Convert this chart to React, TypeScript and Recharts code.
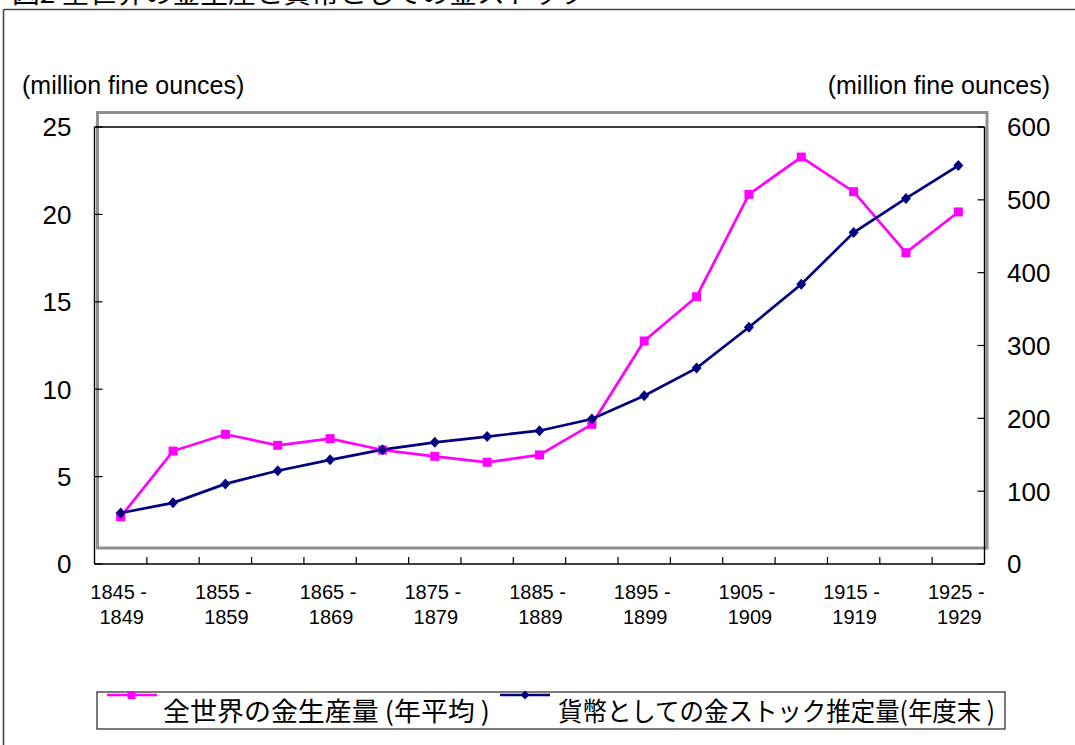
import React from "react";
import { LineChart, Line, XAxis, YAxis, ReferenceLine } from "recharts";

const periods = [
  "1845-1849", "1850-1854", "1855-1859", "1860-1864", "1865-1869", "1870-1874",
  "1875-1879", "1880-1884", "1885-1889", "1890-1894", "1895-1899", "1900-1904",
  "1905-1909", "1910-1914", "1915-1919", "1920-1924", "1925-1929",
];
const goldProduction = [2.7, 6.46, 7.42, 6.79, 7.17, 6.52, 6.16, 5.82, 6.24, 7.99, 12.76, 15.29, 21.15, 23.28, 21.3, 17.81, 20.14];
const monetaryStock = [70, 84, 110, 128, 143, 157, 167, 175, 183, 199, 231, 269, 325, 384, 455, 502, 547];
const leftTicks = [0, 5, 10, 15, 20, 25];
const rightTicks = [0, 100, 200, 300, 400, 500, 600];

const seriesNames = ["全世界の金生産量 (年平均 )", "貨幣としての金ストック推定量(年度末 )"];
const titleText = "図2 全世界の金生産と貨幣としての金ストック";
const unitLabel = "(million fine ounces)";

const PINK = "#FF00FF";
const NAVY = "#000080";
const W = 1075;
const H = 745;
const MARGIN = { top: 127, right: 30.5, bottom: 121, left: 34.5 };
const YW = 60;
const XH = 60;
const PLOT_W = W - MARGIN.left - MARGIN.right - 2 * YW;
const BAND = PLOT_W / periods.length;

const data = periods.map((p, i) => ({ period: p, production: goldProduction[i], stock: monetaryStock[i] }));

const NUM_FONT = "'Liberation Sans', Arial, sans-serif";
const CJK_FONT = "'Noto Sans CJK JP', sans-serif";

const XTick = (props: any) => {
  const { x, y, payload } = props;
  const i = payload.index;
  const [a, b] = String(payload.value).split("-");
  return (
    <g>
      {i < periods.length - 1 && (
        <line x1={x + BAND / 2} x2={x + BAND / 2} y1={y} y2={y - 7} stroke="#000" strokeWidth={1.2} />
      )}
      {i % 2 === 0 && (
        <text textAnchor="middle" fontFamily={NUM_FONT} fontSize={20} fill="#000">
          <tspan x={x - 2} y={y + 35}>{a + " -"}</tspan>
          <tspan x={x + 1} y={y + 60}>{b}</tspan>
        </text>
      )}
    </g>
  );
};

const LeftTick = (props: any) => {
  const { x, y, payload } = props;
  return (
    <g>
      <line x1={x} x2={x + 8} y1={y} y2={y} stroke="#000" strokeWidth={1.2} />
      <text x={x - 23} y={y} dy="0.36em" textAnchor="end" fontFamily={NUM_FONT} fontSize={26} fill="#000">
        {payload.value}
      </text>
    </g>
  );
};

const RightTick = (props: any) => {
  const { x, y, payload } = props;
  return (
    <g>
      <line x1={x - 7} x2={x} y1={y} y2={y} stroke="#000" strokeWidth={1.2} />
      <text x={x + 22.5} y={y} dy="0.36em" textAnchor="start" fontFamily={NUM_FONT} fontSize={26} fill="#000">
        {payload.value}
      </text>
    </g>
  );
};

const SquareDot = (props: any) => {
  const { cx, cy, index } = props;
  if (cx == null || cy == null) return <g key={`s${index}`} />;
  return <rect key={`s${index}`} x={cx - 4.5} y={cy - 4.5} width={9} height={9} fill={PINK} />;
};

const DiamondDot = (props: any) => {
  const { cx, cy, index } = props;
  if (cx == null || cy == null) return <g key={`d${index}`} />;
  return (
    <path
      key={`d${index}`}
      d={`M${cx},${cy - 5.5} L${cx + 5},${cy} L${cx},${cy + 5.5} L${cx - 5},${cy} Z`}
      fill={NAVY}
    />
  );
};

export default function App() {
  return (
    <div style={{ position: "absolute", left: 0, top: 0, width: W, height: H, overflow: "hidden", background: "#fff" }}>
      <svg width={W} height={H} style={{ position: "absolute", left: 0, top: 0 }}>
        <text x={12} y={3} fontFamily={CJK_FONT} fontSize={26} fill="#000" textLength={576} lengthAdjust="spacingAndGlyphs">
          {titleText}
        </text>
        <line x1={3.5} x2={W} y1={9.5} y2={9.5} stroke="#444" strokeWidth={1.6} />
        <line x1={3.5} x2={3.5} y1={9.5} y2={H} stroke="#444" strokeWidth={1.6} />
        <rect x={97.5} y={112.5} width={889.5} height={435.5} fill="none" stroke="#8f8f8f" strokeWidth={3} />
        <text x={22} y={85} dy="0.36em" fontFamily={NUM_FONT} fontSize={25} fill="#000">{unitLabel}</text>
        <text x={1050} y={85} dy="0.36em" textAnchor="end" fontFamily={NUM_FONT} fontSize={25} fill="#000">{unitLabel}</text>
        {/* legend */}
        <rect x={97} y={692} width={908} height={37} fill="#fff" stroke="#333" strokeWidth={1.3} />
        <line x1={107} x2={157} y1={695} y2={695} stroke={PINK} strokeWidth={2.7} />
        <rect x={127.5} y={691} width={8} height={8} fill={PINK} />
        <text x={163} y={721} fontFamily={CJK_FONT} fontSize={26} fill="#000" textLength={327} lengthAdjust="spacingAndGlyphs">
          {seriesNames[0]}
        </text>
        <line x1={500} x2={550} y1={695} y2={695} stroke={NAVY} strokeWidth={2.7} />
        <path d="M525,690.5 L529.5,695 L525,699.5 L520.5,695 Z" fill={NAVY} />
        <text x={558} y={721} fontFamily={CJK_FONT} fontSize={26} fill="#000" textLength={437} lengthAdjust="spacingAndGlyphs">
          {seriesNames[1]}
        </text>
      </svg>
      <div style={{ position: "absolute", left: 0, top: 0 }}>
        <LineChart width={W} height={H} data={data} margin={MARGIN}>
          <XAxis
            dataKey="period"
            scale="band"
            height={XH}
            interval={0}
            tickSize={0}
            tickMargin={0}
            tickLine={false}
            axisLine={{ stroke: "#000", strokeWidth: 1.4 }}
            tick={<XTick />}
          />
          <YAxis
            yAxisId="left"
            orientation="left"
            width={YW}
            domain={[0, 25]}
            ticks={leftTicks}
            interval={0}
            tickSize={0}
            tickMargin={0}
            tickLine={false}
            axisLine={{ stroke: "#000", strokeWidth: 1.4 }}
            tick={<LeftTick />}
          />
          <YAxis
            yAxisId="right"
            orientation="right"
            width={YW}
            domain={[0, 600]}
            ticks={rightTicks}
            interval={0}
            tickSize={0}
            tickMargin={0}
            tickLine={false}
            axisLine={{ stroke: "#000", strokeWidth: 1.4 }}
            tick={<RightTick />}
          />
          <ReferenceLine yAxisId="left" y={25} stroke="#000" strokeWidth={1.4} />
          <Line
            yAxisId="left"
            dataKey="production"
            stroke={PINK}
            strokeWidth={2.7}
            dot={(p: any) => <SquareDot {...p} />}
            activeDot={false}
            isAnimationActive={false}
          />
          <Line
            yAxisId="right"
            dataKey="stock"
            stroke={NAVY}
            strokeWidth={2.7}
            dot={(p: any) => <DiamondDot {...p} />}
            activeDot={false}
            isAnimationActive={false}
          />
        </LineChart>
      </div>
    </div>
  );
}
